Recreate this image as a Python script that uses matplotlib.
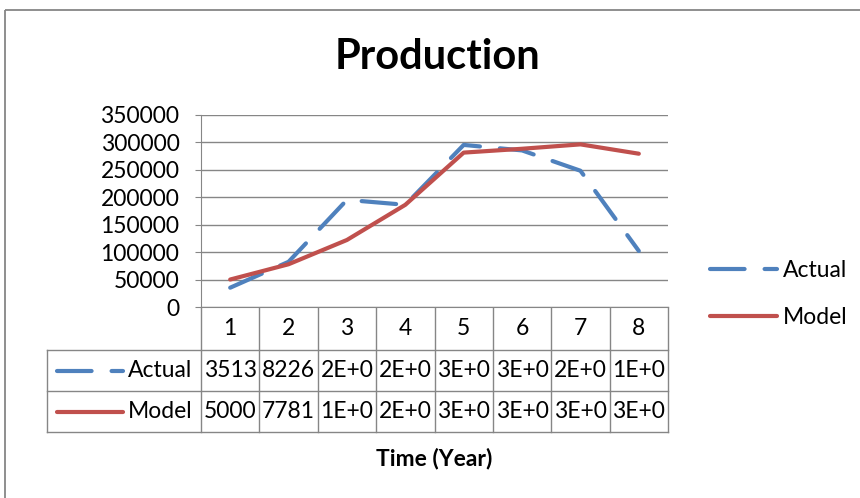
import matplotlib.pyplot as plt
from matplotlib.lines import Line2D
from matplotlib.patches import Rectangle

plt.rcParams['font.family'] = ['Lato', 'DejaVu Sans']

years = [1, 2, 3, 4, 5, 6, 7, 8]
actual = [35130, 82260, 195000, 186000, 295000, 285000, 248000, 102000]
model = [50000, 77810, 122000, 186000, 281000, 288000, 296000, 279000]
actual_txt = ['3513', '8226', '2E+0', '2E+0', '3E+0', '3E+0', '2E+0', '1E+0']
model_txt = ['5000', '7781', '1E+0', '2E+0', '3E+0', '3E+0', '3E+0', '3E+0']
yticks = list(range(0, 350001, 50000))

W, H = 860, 498
BLUE = '#4F81BD'
RED = '#C0504D'
GRAY = '#868686'
FS = 16.5

fig = plt.figure(figsize=(W / 100, H / 100), dpi=100)

# plot area (pixel layout of the original)
L, R, T, B = 201, 668, 114.7, 307
ax = fig.add_axes([L / W, 1 - B / H, (R - L) / W, (B - T) / H])
ax.set_xlim(0.5, 8.5)
ax.set_ylim(0, 350000)
ax.plot(years, actual, color=BLUE, lw=3, dashes=(8.3, 4.8),
        dash_capstyle='round', label='Actual')
ax.plot(years, model, color=RED, lw=3, solid_capstyle='round', label='Model')
ax.set_yticks(yticks)
ax.set_xticks([])
ax.yaxis.grid(True, color=GRAY, lw=1)
ax.set_axisbelow(True)
ax.tick_params(axis='y', length=4.5, color=GRAY, labelsize=FS, pad=11)
for s in ['top', 'right']:
    ax.spines[s].set_visible(False)
for s in ['left', 'bottom']:
    ax.spines[s].set_color(GRAY)

# overlay in pixel coords for the data table and border
tab = fig.add_axes([0, 0, 1, 1], zorder=-1)
tab.set_xlim(0, W)
tab.set_ylim(H, 0)
tab.axis('off')
tab.add_patch(Rectangle((5, 10), 1000, 1000, fill=False, ec=GRAY, lw=1.3))

rows = [307, 350, 391, 432]
left = 47
cw = (R - L) / len(years)
for y in rows[1:]:
    tab.plot([left, R], [y, y], color=GRAY, lw=1)
tab.plot([left, left], [rows[1], rows[3]], color=GRAY, lw=1)
for i in range(len(years) + 1):
    x = L + i * cw
    tab.plot([x, x], [rows[0], rows[3]], color=GRAY, lw=1)

for i, yr in enumerate(years):
    cx = L + (i + 0.5) * cw
    tab.text(cx, (rows[0] + rows[1]) / 2, str(yr), ha='center', va='center', fontsize=FS)
    tab.text(cx, (rows[1] + rows[2]) / 2, actual_txt[i], ha='center', va='center', fontsize=FS)
    tab.text(cx, (rows[2] + rows[3]) / 2, model_txt[i], ha='center', va='center', fontsize=FS)

ya = (rows[1] + rows[2]) / 2
ym = (rows[2] + rows[3]) / 2
tab.add_line(Line2D([57, 123], [ya, ya], color=BLUE, lw=3, dashes=(8.3, 4.8),
                    dash_capstyle='round'))
tab.add_line(Line2D([57, 123], [ym, ym], color=RED, lw=3, solid_capstyle='round'))
tab.text(128, ya, 'Actual', ha='left', va='center', fontsize=FS)
tab.text(128, ym, 'Model', ha='left', va='center', fontsize=FS)

tab.text((L + R) / 2, 458, 'Time (Year)', ha='center', va='center',
         fontsize=FS, fontweight='bold')

fig.text(438 / W, 1 - 57 / H, 'Production', ha='center', va='center',
         fontsize=30, fontweight='bold')

fig.legend(*ax.get_legend_handles_labels(), loc='center left',
           bbox_to_anchor=(699 / W, 1 - 294 / H), frameon=False, fontsize=FS,
           handlelength=2.9, handletextpad=0.25, labelspacing=1.1, borderpad=0)

fig.savefig('out.png', dpi=100)
